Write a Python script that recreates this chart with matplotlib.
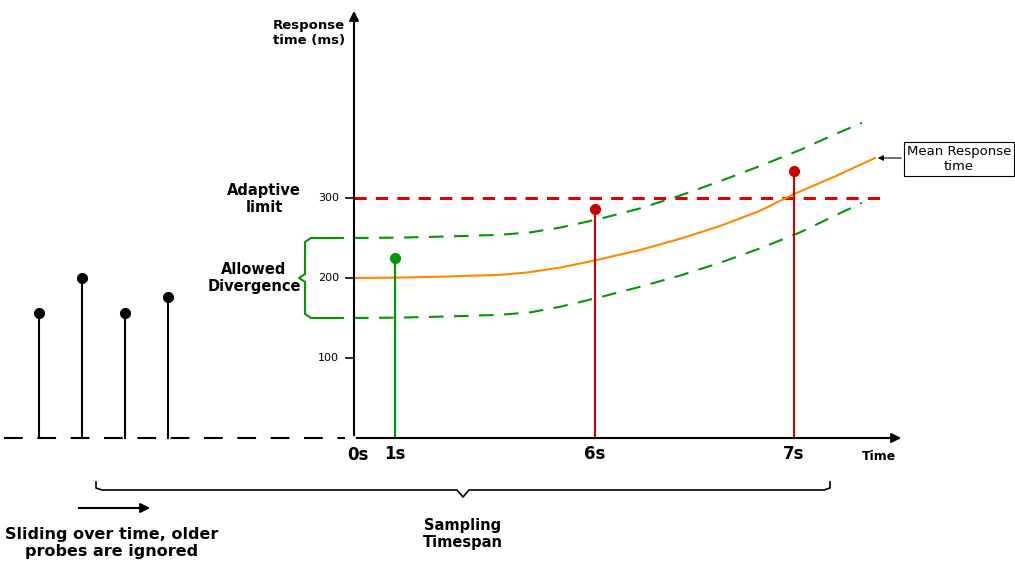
import matplotlib
matplotlib.use("Agg")
import matplotlib.pyplot as plt
import numpy as np

# x positions in layout units, y in ms
probe_x = [395, 595, 794]
probe_y = [225, 286, 334]
probe_colors = ["#009900", "#CC0000", "#CC0000"]
probe_labels = ["1s", "6s", "7s"]
old_x = [39, 82, 125, 168]
old_y = [156, 200, 156, 176]
mean_x = [354, 400, 450, 500, 528, 560, 595, 640, 680, 720, 760, 794, 835, 875]
mean_y = [200, 200.5, 202, 204, 207, 213, 222, 235, 249, 265, 284, 305, 327, 350]
up_x = [354, 400, 450, 500, 530, 560, 600, 640, 680, 720, 760, 800, 830, 862]
up_y = [250, 250.5, 252, 254, 257, 263, 274, 287, 303, 321, 340, 360, 377, 394]
lo_x = [354, 400, 450, 500, 530, 560, 600, 640, 680, 720, 760, 800, 830, 862]
lo_y = [150, 150.5, 152, 154, 157, 164, 176, 189, 203, 219, 237, 257, 275, 294]
yticks = [100, 200, 300]
limit = 300

def py(p):  # pixel row -> ms
    return (438 - p) / 0.8

fig = plt.figure(figsize=(10.15, 5.65), dpi=100)
ax = fig.add_axes([0, 0, 1, 1])
ax.set_xlim(0, 1015)
ax.set_ylim(py(565), py(0))
ax.axis("off")

ax.annotate("", xy=(904, 0), xytext=(354, 0),
            arrowprops=dict(arrowstyle="-|>", color="black", lw=1.5, mutation_scale=14))
ax.annotate("", xy=(354, py(8)), xytext=(354, 0),
            arrowprops=dict(arrowstyle="-|>", color="black", lw=1.5, mutation_scale=14))
ax.plot([4, 345], [0, 0], color="black", lw=1.5, dashes=(9, 7))
for t in yticks:
    ax.plot([346, 354], [t, t], color="black", lw=1.2)
    ax.text(339, t, str(t), ha="right", va="center", fontsize=8)

ax.plot([354, 888], [limit, limit], color="#DD0000", lw=2.2, dashes=(4, 3))
ax.plot(up_x, up_y, color="#009900", lw=1.5, dashes=(7, 5))
ax.plot(lo_x, lo_y, color="#009900", lw=1.5, dashes=(7, 5))
ax.plot(mean_x, mean_y, color="#FF8800", lw=1.5)

for x, y, c in zip(probe_x, probe_y, probe_colors):
    ax.plot([x, x], [0, y], color=c, lw=1.5)
    ax.plot(x, y, "o", color=c, ms=7)
for x, y in zip(old_x, old_y):
    ax.plot([x, x], [0, y], color="black", lw=1.5)
    ax.plot(x, y, "o", color="black", ms=7)

bold = dict(fontweight="bold")
ax.text(358, py(455), "0s", ha="center", va="center", fontsize=12, **bold)
for x, l in zip(probe_x, probe_labels):
    ax.text(x, py(454), l, ha="center", va="center", fontsize=12, **bold)
ax.text(879, py(456), "Time", ha="center", va="center", fontsize=9, **bold)
ax.text(309, py(33), "Response\ntime (ms)", ha="center", va="center", fontsize=9.5, **bold)
ax.text(264, py(199), "Adaptive\nlimit", ha="center", va="center", fontsize=10.5, **bold)
ax.text(254, py(278), "Allowed\nDivergence", ha="center", va="center", fontsize=10.5, **bold)
ax.text(463, py(534), "Sampling\nTimespan", ha="center", va="center", fontsize=10.5, **bold)
ax.text(112, py(543), "Sliding over time, older\nprobes are ignored", ha="center", va="center", fontsize=11.5, **bold)
ax.text(959, py(159), "Mean Response\ntime", ha="center", va="center", fontsize=9.5,
        bbox=dict(boxstyle="square,pad=0.25", fc="white", ec="black", lw=0.8))
ax.annotate("", xy=(875, py(158)), xytext=(904, py(158)),
            arrowprops=dict(arrowstyle="-|>", color="black", lw=0.8, mutation_scale=8))
ax.annotate("", xy=(153, py(508)), xytext=(76, py(508)),
            arrowprops=dict(arrowstyle="-|>", color="black", lw=1.5, mutation_scale=14))

bx = [343, 311, 305, 305, 299, 305, 305, 311, 343]
by = [250, 250, 245, 205, 200, 195, 155, 150, 150]
ax.plot(bx, by, color="#009900", lw=1.5)
hx = [96, 96, 102, 457, 463, 469, 824, 830, 830]
hy = [py(482), py(488), py(490), py(490), py(497), py(490), py(490), py(488), py(482)]
ax.plot(hx, hy, color="black", lw=1.2)

fig.savefig("out.png", dpi=100)
